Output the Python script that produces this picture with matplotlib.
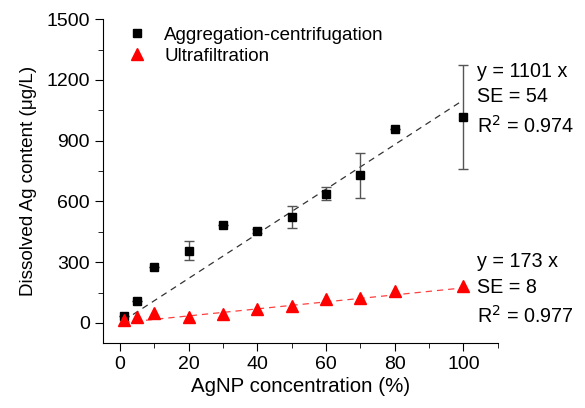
import matplotlib
matplotlib.use('Agg')
import matplotlib.pyplot as plt
from matplotlib.ticker import MultipleLocator
import numpy as np

plt.rcParams['font.family'] = ['Liberation Sans', 'DejaVu Sans']

# Data
conc = [1, 5, 10, 20, 30, 40, 50, 60, 70, 80, 100]
agg = [35, 109, 275, 356, 484, 454, 523, 639, 728, 959, 1016]
agg_err = [0, 0, 0, 46, 0, 12, 53, 33, 110, 0, 256]
uf = [15, 31, 51, 31, 43, 68, 81, 117, 125, 155, 180]

slope_agg = 1101
slope_uf = 173

fig = plt.figure(figsize=(5.85, 4.08), dpi=100)
ax = fig.add_axes([0.176, 0.159, 0.675, 0.794])

xfit = np.array([1, 100])
ax.plot(xfit, slope_agg * xfit / 100, '--', color='#333333', lw=0.9, dashes=(5, 4))
ax.plot(xfit, slope_uf * xfit / 100, '--', color='#ff4040', lw=0.9, dashes=(5, 4))

ax.errorbar(conc, agg, yerr=agg_err, fmt='none', ecolor='#555555', elinewidth=1.0,
            capsize=3.5, capthick=1.0)
ax.plot(conc, agg, 's', color='black', ms=5.5, label='Aggregation-centrifugation')
ax.plot(conc, uf, '^', color='red', ms=8, label='Ultrafiltration')

ax.set_xlim(-5, 110)
ax.set_ylim(-100, 1500)
ax.set_xticks([0, 20, 40, 60, 80, 100])
ax.set_yticks([0, 300, 600, 900, 1200, 1500])
ax.xaxis.set_minor_locator(MultipleLocator(10))
ax.yaxis.set_minor_locator(MultipleLocator(150))
ax.tick_params(which='both', direction='out', labelsize=14)
ax.tick_params(which='major', length=6)
ax.tick_params(which='minor', length=3.5)
ax.spines['top'].set_visible(False)
ax.spines['right'].set_visible(False)

ax.set_xlabel('AgNP concentration (%)', fontsize=14.8, labelpad=3)
ax.set_ylabel('Dissolved Ag content (μg/L)', fontsize=13.6, labelpad=7)

ax.legend(loc='upper left', frameon=False, fontsize=13.5, handletextpad=0.45,
          borderaxespad=0.0, labelspacing=0.2, bbox_to_anchor=(0.02, 1.0))

ax.text(104, 1290, 'y = 1101 x\nSE = 54\nR$^2$ = 0.974', fontsize=14.2,
        va='top', linespacing=1.45)
ax.text(104, 350, 'y = 173 x\nSE = 8\nR$^2$ = 0.977', fontsize=14.2,
        va='top', linespacing=1.45)

fig.savefig('out.png', dpi=100)
